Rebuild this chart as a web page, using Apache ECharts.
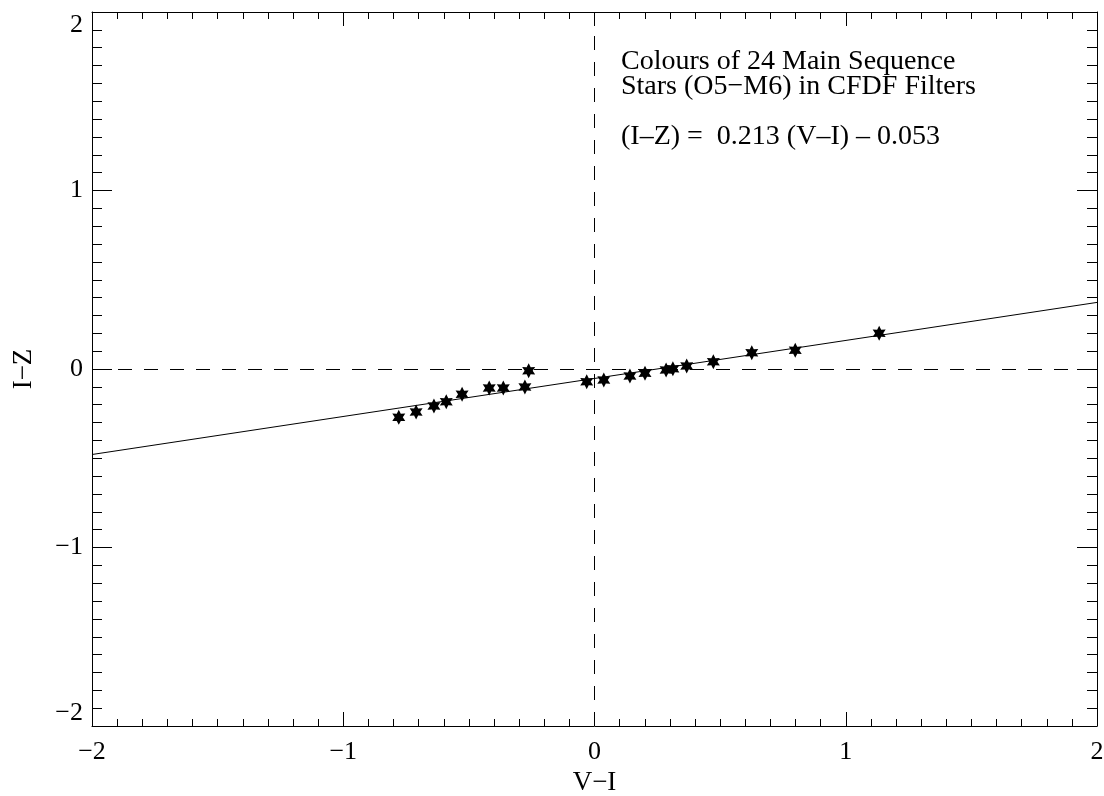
<!DOCTYPE html>
<html>
<head>
<meta charset="utf-8">
<script src="https://cdn.jsdelivr.net/npm/echarts@6/dist/echarts.min.js"></script>
<style>
  html, body { margin: 0; padding: 0; background: #ffffff; }
  #chart { width: 1104px; height: 796px; }
</style>
</head>
<body>
<div id="chart"></div>
<script>
// Main-sequence star colours (O5–M6) measured through CFDF filters
const vMinusI = [-0.779, -0.710, -0.639, -0.590, -0.527, -0.419, -0.363, -0.277, -0.262,
                 -0.031, 0.037, 0.141, 0.201, 0.285, 0.312, 0.367, 0.473, 0.626, 0.799, 1.133];
const iMinusZ = [-0.271, -0.241, -0.207, -0.183, -0.142, -0.106, -0.106, -0.101, -0.010,
                 -0.071, -0.062, -0.039, -0.024, -0.006, 0.002, 0.017, 0.041, 0.091, 0.105, 0.200];

// Linear fit (I−Z) = slope (V−I) + intercept
const fitSlope = 0.213;
const fitIntercept = -0.053;

const xRange = [-2, 2];
const yRange = [-2, 2];
const majorStep = 1;

const titleLines = ['Colours of 24 Main Sequence', 'Stars (O5\u2212M6) in CFDF Filters'];
const fitLabel = '(I\u2013Z) =  ' + fitSlope.toFixed(3) + ' (V\u2013I) \u2013 ' + Math.abs(fitIntercept).toFixed(3);

const FONT = '"Liberation Serif", "Times New Roman", serif';
const minus = v => String(v).replace('-', '\u2212');

// six-pointed filled star
const starPath = 'path://M50 0 L63.5 26.6 L93.3 25 L77 50 L93.3 75 L63.5 73.4 L50 100 L36.5 73.4 L6.7 75 L23 50 L6.7 25 L36.5 26.6 Z';

const points = vMinusI.map((x, i) => [x, iMinusZ[i]]);
const fitLine = xRange.map(x => [x, fitSlope * x + fitIntercept]);

function makeAxis(position, major, minor, showLabels, name, nameGap) {
  const vertical = position === 'left' || position === 'right';
  const label = {
    show: showLabels,
    fontFamily: FONT, fontSize: 26, color: '#000',
    margin: vertical ? 9 : 13,
    formatter: v => minus(v)
  };
  if (vertical) {
    // end labels sit inside the frame
    label.verticalAlignMinLabel = 'bottom';
    label.verticalAlignMaxLabel = 'top';
  }
  return {
    type: 'value',
    position: position,
    min: vertical ? yRange[0] : xRange[0],
    max: vertical ? yRange[1] : xRange[1],
    interval: majorStep,
    name: name,
    nameLocation: 'middle',
    nameGap: nameGap,
    nameTextStyle: { fontFamily: FONT, fontSize: 27, color: '#000' },
    axisLine: { show: true, onZero: false, lineStyle: { color: '#000', width: 1 } },
    axisTick: { show: true, inside: true, length: major, lineStyle: { color: '#000', width: 1 } },
    minorTick: { show: true, splitNumber: 10, length: minor, lineStyle: { color: '#000', width: 1 } },
    splitLine: { show: false },
    minorSplitLine: { show: false },
    axisLabel: label
  };
}

const chart = echarts.init(document.getElementById('chart'), null, { renderer: 'canvas' });
chart.setOption({
  animation: false,
  backgroundColor: '#ffffff',
  grid: { left: 92, top: 12, right: 7, bottom: 70, containLabel: false, outerBoundsMode: 'none' },
  xAxis: [
    makeAxis('bottom', 14, 7, true, 'V\u2212I', 42),
    makeAxis('top', 14, 7, false, '', 0)
  ],
  yAxis: [
    makeAxis('left', 20, 10, true, 'I\u2212Z', 55),
    makeAxis('right', 20, 10, false, '', 0)
  ],
  graphic: [
    { type: 'text', left: 621, top: 48, style: { text: titleLines[0], font: '28px ' + FONT, fill: '#000' } },
    { type: 'text', left: 621, top: 73, style: { text: titleLines[1], font: '28px ' + FONT, fill: '#000' } },
    { type: 'text', left: 621, top: 123, style: { text: fitLabel, font: '28px ' + FONT, fill: '#000' } }
  ],
  series: [
    {
      type: 'line',
      data: fitLine,
      showSymbol: false,
      symbol: 'none',
      lineStyle: { color: '#000', width: 1 },
      silent: true,
      z: 2,
      markLine: {
        silent: true,
        symbol: 'none',
        label: { show: false },
        lineStyle: { color: '#000', width: 1, type: [14, 12] },
        data: [{ xAxis: 0 }, { yAxis: 0 }]
      }
    },
    {
      type: 'scatter',
      data: points,
      symbol: starPath,
      symbolSize: 15,
      symbolKeepAspect: true,
      itemStyle: { color: '#000', opacity: 1 },
      z: 3
    }
  ]
});
</script>
</body>
</html>
